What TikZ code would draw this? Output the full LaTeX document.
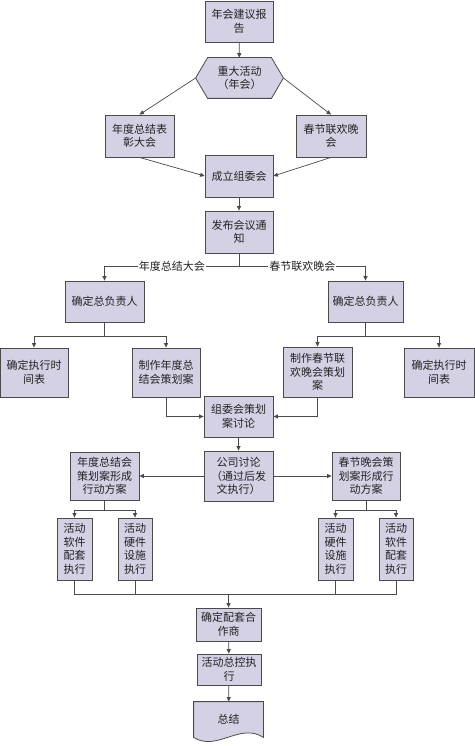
\documentclass[tikz,border=0pt]{standalone}
\usepackage{fontspec}
\newfontfamily\cjk{Noto Sans CJK SC}
\usetikzlibrary{arrows.meta,backgrounds}
\definecolor{boxfill}{HTML}{D5D1E5}
\definecolor{boxline}{HTML}{4A4A4A}
\definecolor{txt}{HTML}{222222}

\begin{document}
\begin{tikzpicture}[x=1pt,y=-1pt,
    box/.style={draw=boxline,fill=boxfill,line width=0.8pt,align=center,inner sep=0pt,text=txt,font=\cjk\fontsize{11}{13.5}\selectfont},
    link/.style={draw=boxline,line width=0.7pt},
    arr/.style={link,-{Triangle[length=4.5pt,width=4pt]}},
    tag/.style={fill=white,inner sep=1pt,text=txt,font=\cjk\fontsize{11}{13.5}\selectfont}]
  \useasboundingbox (0,0) rectangle (474,746);

  \node[box,minimum width=68,minimum height=41] (report) at (239,21.5) {年会建议报\\告};
  \node[box,draw=none,fill=none,minimum width=87,minimum height=40] (hex) at (239.5,78) {重大活动\\（年会）};
  \node[box,minimum width=69,minimum height=42] (awardL) at (139.5,136) {年度总结表\\彰大会};
  \node[box,minimum width=70,minimum height=42] (galaR) at (331,136) {春节联欢晚\\会};
  \node[box,minimum width=68,minimum height=42] (committee) at (239,176) {成立组委会};
  \node[box,minimum width=68,minimum height=42] (notice) at (239,232) {发布会议通\\知};
  \node[box,minimum width=79,minimum height=41] (leadL) at (104.5,301.5) {确定总负责人};
  \node[box,minimum width=75,minimum height=41] (leadR) at (365.5,301.5) {确定总负责人};
  \node[box,minimum width=68,minimum height=49] (schedL) at (34,372.5) {确定执行时\\间表};
  \node[box,minimum width=68,minimum height=49] (planL) at (166,372.5) {制作年度总\\结会策划案};
  \node[box,minimum width=69,minimum height=50] (planR) at (317.5,372) {制作春节联\\欢晚会策划\\案};
  \node[box,minimum width=70,minimum height=49] (schedR) at (439,372.5) {确定执行时\\间表};
  \node[box,minimum width=69,minimum height=41] (review) at (238.5,416.5) {组委会策划\\案讨论};
  \node[box,minimum width=69,minimum height=50] (company) at (238.5,476) {公司讨论\\（通过后发\\文执行）};
  \node[box,minimum width=69,minimum height=48] (actL) at (104.5,476) {年度总结会\\策划案形成\\行动方案};
  \node[box,minimum width=68,minimum height=48] (actR) at (366,476) {春节晚会策\\划案形成行\\动方案};
  \node[box,minimum width=35,minimum height=62] (softL) at (74.5,549) {活动\\软件\\配套\\执行};
  \node[box,minimum width=34,minimum height=62] (hardL) at (135,549) {活动\\硬件\\设施\\执行};
  \node[box,minimum width=35,minimum height=62] (hardR) at (335.5,549) {活动\\硬件\\设施\\执行};
  \node[box,minimum width=34,minimum height=62] (softR) at (396,549) {活动\\软件\\配套\\执行};
  \node[box,minimum width=65,minimum height=33] (partner) at (228.5,624.5) {确定配套合\\作商};
  \node[box,minimum width=64,minimum height=31] (control) at (229,669.5) {活动总控执\\行};
  \node[box,draw=none,fill=none,minimum width=69,minimum height=35] (sum) at (228.5,719.5) {总结};

  \begin{scope}[on background layer]
    \filldraw[draw=boxline,fill=boxfill,line width=0.8pt] (hex.west) -- ([xshift=12pt]hex.north west) -- ([xshift=-12pt]hex.north east)
      -- (hex.east) -- ([xshift=-12pt]hex.south east) -- ([xshift=12pt]hex.south west) -- cycle;
    \filldraw[draw=boxline,fill=boxfill,line width=0.8pt] (sum.south west) -- (sum.north west) -- (sum.north east) -- (sum.south east)
      .. controls (240,722) and (217,752) .. (sum.south west) -- cycle;
  \end{scope}

  \coordinate (forkA) at (239,266);
  \coordinate (forkB) at (104.5,336);
  \coordinate (forkC) at (365.5,336);
  \coordinate (forkD) at (104.5,510);
  \coordinate (forkE) at (366,510);
  \coordinate (join) at (228.5,594);

  \draw[arr] (report) -- (hex);
  \draw[arr] (hex.west) -- (awardL.north);
  \draw[arr] (hex.east) -- (galaR.north);
  \draw[arr] (awardL.south) -- (committee.west);
  \draw[arr] (galaR.south) -- (committee.east);
  \draw[arr] (committee) -- (notice);
  \draw[link] (notice) -- (forkA);
  \draw[arr] (forkA) -| node[tag,pos=0.25] {年度总结大会} (leadL.north);
  \draw[arr] (forkA) -| node[tag,pos=0.25] {春节联欢晚会} (leadR.north);
  \draw[link] (leadL) -- (forkB);
  \draw[arr] (forkB) -| (schedL.north);
  \draw[arr] (forkB) -| (planL.north);
  \draw[link] (leadR) -- (forkC);
  \draw[arr] (forkC) -| (planR.north);
  \draw[arr] (forkC) -| (schedR.north);
  \draw[arr] (planL.south) |- (review.west);
  \draw[arr] (planR.south) |- (review.east);
  \draw[arr] (review) -- (company);
  \draw[arr] (company) -- (actL);
  \draw[arr] (company) -- (actR);
  \draw[link] (actL) -- (forkD);
  \draw[arr] (forkD) -| (softL.north);
  \draw[arr] (forkD) -| (hardL.north);
  \draw[link] (actR) -- (forkE);
  \draw[arr] (forkE) -| (hardR.north);
  \draw[arr] (forkE) -| (softR.north);
  \draw[link] (softL.south) |- (join);
  \draw[link] (hardL.south) |- (join);
  \draw[link] (hardR.south) |- (join);
  \draw[link] (softR.south) |- (join);
  \draw[arr] (join) -- (partner);
  \draw[arr] (partner) -- (control);
  \draw[arr] (control) -- (sum);
\end{tikzpicture}
\end{document}
